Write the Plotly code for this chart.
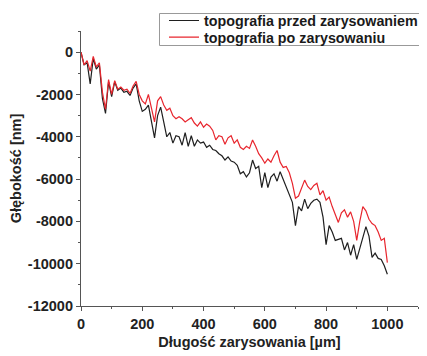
import plotly.graph_objects as go

x_um = list(range(0, 1001, 10))

przed = [0, -600, -500, -1500, -300, -800, -600, -2200, -2900, -1400,
         -2100, -1400, -1800, -1700, -1900, -1850, -2050, -1700, -1500, -2300,
         -2800, -2700, -2500, -3200, -4050, -3000, -2600, -3300, -4000, -3800,
         -4300, -3950, -4000, -4400, -3800, -4450, -3950, -4450, -4150, -4300,
         -4250, -4500, -4400, -4600, -4650, -4800, -4900, -5100, -4950, -5150,
         -5200, -5350, -5750, -5650, -5900, -5700, -5100, -5500, -5400, -6400,
         -5700, -6400, -5900, -5750, -6100, -5650, -6000, -6400, -6700, -7100,
         -8200, -7300, -7500, -6950, -7400, -7150, -7000, -6950, -7100, -7800,
         -9100, -8200, -8500, -8900, -8850, -8800, -9350, -9000, -9600, -9100,
         -9800, -9300, -8700, -8250, -8700, -9700, -9500, -9750, -9800, -10100,
         -10500]

po = [0, -600, -400, -900, -200, -700, -500, -1900, -2700, -1300,
      -2000, -1350, -1750, -1650, -1800, -1750, -1950, -1600, -1380, -2000,
      -2300, -2450, -2000, -2600, -3300, -2300, -2100, -2500, -2750, -2650,
      -3000, -3150, -3050, -3150, -3300, -3200, -3100, -3350, -3500, -3300,
      -3550, -3400, -3500, -3700, -4150, -3950, -4000, -4350, -4050, -3950,
      -4300, -4150, -4500, -4600, -4450, -4550, -4150, -4450, -4800, -5000,
      -5250, -5050, -5200, -4900, -4650, -5200, -5450, -5400, -5700, -6200,
      -6900, -6800, -6400, -6050, -6350, -6500, -6300, -6200, -6750, -6550,
      -7000, -6850, -7300, -7700, -8050, -7600, -7450, -7800, -7550, -8000,
      -8900, -8000, -7300, -7500, -7900, -8100, -8200, -8500, -8900, -8800,
      -9950]

names = ["topografia przed zarysowaniem", "topografia po zarysowaniu"]
x_ticks = [0, 200, 400, 600, 800, 1000]
y_ticks = [0, -2000, -4000, -6000, -8000, -10000, -12000]

FONT = "Liberation Sans, Arial, sans-serif"

fig = go.Figure()
fig.add_trace(go.Scatter(x=x_um, y=przed, mode="lines", name=names[0],
                         legend="legend",
                         line=dict(color="#1f1f1f", width=1.2)))
fig.add_trace(go.Scatter(x=x_um, y=po, mode="lines", name=names[1],
                         legend="legend2",
                         line=dict(color="#e8262e", width=1.2)))

axis_common = dict(
    showline=True, linecolor="#555555", linewidth=1.2,
    ticks="outside", ticklen=4, tickwidth=1.2, tickcolor="#555555",
    showgrid=False, zeroline=False, automargin=False,
    tickfont=dict(family=FONT, size=14.5, color="#222222"),
    minor=dict(ticks="outside", ticklen=2, tickwidth=1, tickcolor="#555555"),
)

# page body has an 8px margin; figure coords = window coords - 8
W, H = 419, 348
PL, PR, PT, PB = 73, 410, 23, 298

def px_to_paper_x(px):
    return (px - PL) / (PR - PL)

def py_to_paper_y(py):
    return (PB - py) / (PB - PT)

leg_common = dict(xanchor="left", yanchor="middle",
                  bgcolor="rgba(0,0,0,0)", borderwidth=0,
                  font=dict(family=FONT, size=14.3, color="#1a1a1a", weight="bold"),
                  itemwidth=30)

fig.update_layout(
    width=W, height=H,
    margin=dict(l=PL, r=W - PR, t=PT, b=H - PB, autoexpand=False),
    paper_bgcolor="white", plot_bgcolor="white",
    font=dict(family=FONT, size=14.5, color="#222222"),
    showlegend=True,
    legend=dict(x=px_to_paper_x(156), y=py_to_paper_y(12.7), **leg_common),
    legend2=dict(x=px_to_paper_x(156), y=py_to_paper_y(29.3), **leg_common),
    shapes=[dict(type="rect", xref="paper", yref="paper",
                 x0=px_to_paper_x(151.5), x1=px_to_paper_x(425),
                 y0=py_to_paper_y(37.5), y1=py_to_paper_y(5.5),
                 line=dict(color="#999999", width=1), fillcolor="rgba(0,0,0,0)",
                 layer="above")],
)
fig.update_xaxes(**axis_common, range=[0, 1100], tickvals=x_ticks,
                 ticktext=[f"<b>{v}</b>" for v in x_ticks],
                 title=dict(text="<b>Długość zarysowania [µm]</b>", standoff=6,
                            font=dict(family=FONT, size=14.5)))
fig.update_xaxes(minor=dict(tickvals=[100, 300, 500, 700, 900, 1100]))
fig.update_yaxes(**axis_common, range=[-12000, 1000], tickvals=y_ticks,
                 ticktext=[f"<b>{v}</b>" for v in y_ticks],
                 title=dict(text="<b>Głębokość [nm]</b>", standoff=4,
                            font=dict(family=FONT, size=14.5)))
fig.update_yaxes(minor=dict(tickvals=[1000, -1000, -3000, -5000, -7000, -9000, -11000]))

fig.write_html("out.html")
